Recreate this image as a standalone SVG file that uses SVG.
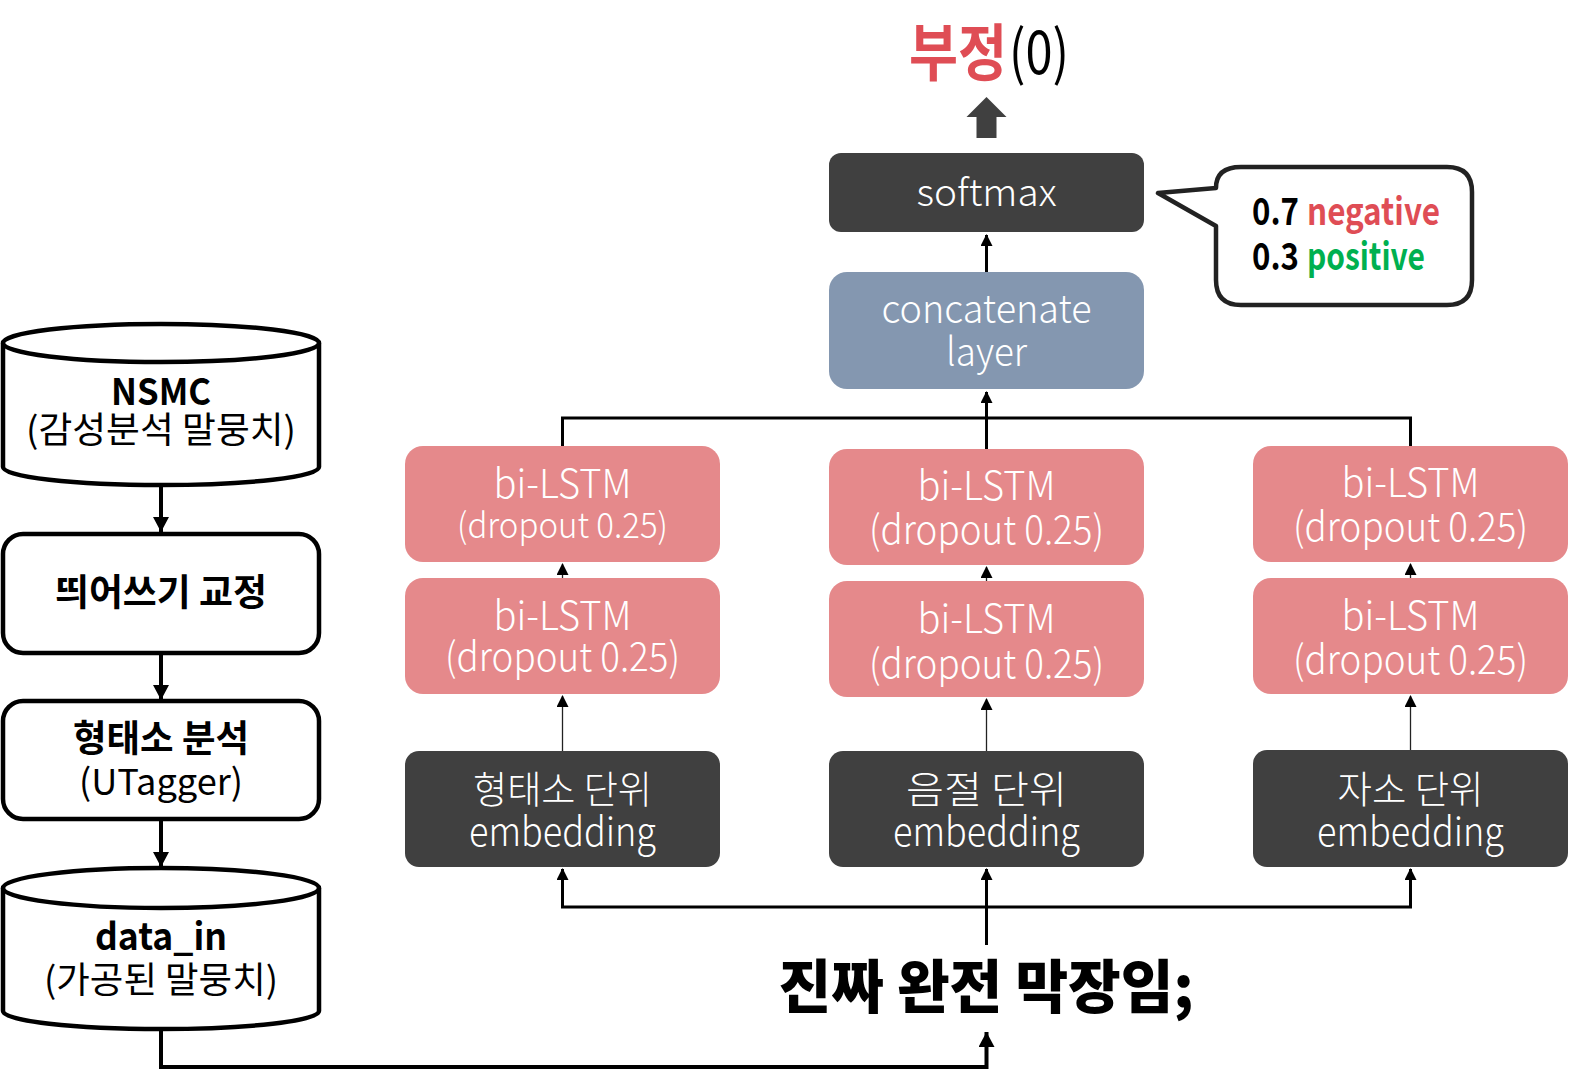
<svg xmlns="http://www.w3.org/2000/svg" width="1573" height="1073" viewBox="0 0 1573 1073">
<defs>
<style>
text{font-family:"Noto Sans CJK KR","Noto Sans",sans-serif;}
.w{fill:#ffffff;font-weight:300;}
.k{fill:#000000;}
.b{font-weight:700;}
.dark{fill:#404040;}
.lstm{fill:#E5898B;}
.cc{fill:#8497B0;}
.outl{fill:#ffffff;stroke:#000000;stroke-width:4.5;}
.c{fill:none;stroke:#000000;stroke-width:3;}
.thin{fill:none;stroke:#222222;stroke-width:1.3;}
.fl{fill:none;stroke:#000000;stroke-width:4;}
</style>
<marker id="ah" markerUnits="userSpaceOnUse" markerWidth="12" markerHeight="12" refX="11" refY="6" orient="auto">
<path d="M0,0 L12,6 L0,12 z" fill="#000000"/>
</marker>
<marker id="ahL" markerUnits="userSpaceOnUse" markerWidth="15" markerHeight="16" refX="15" refY="8" orient="auto">
<path d="M0,0 L15,8 L0,16 z" fill="#000000"/>
</marker>
</defs>
<rect width="1573" height="1073" fill="#ffffff"/>

<g id="connectors">
<path class="c" d="M986.5,272 V235" stroke-width="2.5" marker-end="url(#ah)"/>
<path class="c" d="M562.5,446 V418 H1410.5 V446"/>
<path class="c" d="M986.5,449 V392" marker-end="url(#ah)"/>
<path class="thin" d="M562.5,578 V564" marker-end="url(#ah)"/>
<path class="thin" d="M986.5,581 V567" marker-end="url(#ah)"/>
<path class="thin" d="M1410.5,578 V564" marker-end="url(#ah)"/>
<path class="thin" d="M562.5,751 V696" marker-end="url(#ah)"/>
<path class="thin" d="M986.5,751 V699" marker-end="url(#ah)"/>
<path class="thin" d="M1410.5,750 V696" marker-end="url(#ah)"/>
<path class="c" d="M986.5,945 V869" marker-end="url(#ah)"/>
<path class="c" d="M986.5,907 H562.5 V869" marker-end="url(#ah)"/>
<path class="c" d="M986.5,907 H1410.5 V869" marker-end="url(#ah)"/>
<path class="fl" d="M161,487 V532" marker-end="url(#ahL)"/>
<path class="fl" d="M161,655 V700" marker-end="url(#ahL)"/>
<path class="fl" d="M161,821 V867" marker-end="url(#ahL)"/>
<path class="fl" d="M161,1029 V1067 H986.5 V1032" marker-end="url(#ahL)"/>
</g>

<g id="result">
<text x="909" y="76" font-size="62" class="b" fill="#DF4D55" textLength="98" lengthAdjust="spacingAndGlyphs">부정</text>
<text x="1009" y="74" font-size="60" fill="#000000" textLength="60" lengthAdjust="spacingAndGlyphs">(0)</text>
<polygon class="dark" points="986.5,97 1006.5,117 996.5,117 996.5,138 976.5,138 976.5,117 966.5,117"/>
</g>

<g id="softmax">
<rect class="dark" x="829" y="153" width="315" height="79" rx="12"/>
<text class="w" x="986.5" y="206" font-size="38" text-anchor="middle" textLength="140" lengthAdjust="spacingAndGlyphs">softmax</text>
</g>

<g id="bubble">
<path d="M1158,193 L1216,188 Q1216,167 1241,167 L1447,167 Q1472,167 1472,192 L1472,280 Q1472,305 1447,305 L1241,305 Q1216,305 1216,280 L1216,226 Z" fill="#ffffff" stroke="#222222" stroke-width="4.5" stroke-linejoin="round"/>
<text x="1252" y="225" font-size="38" class="b k" textLength="47" lengthAdjust="spacingAndGlyphs">0.7</text>
<text x="1307" y="225" font-size="38" class="b" fill="#DF4D55" textLength="133" lengthAdjust="spacingAndGlyphs">negative</text>
<text x="1252" y="270" font-size="38" class="b k" textLength="47" lengthAdjust="spacingAndGlyphs">0.3</text>
<text x="1307" y="270" font-size="38" class="b" fill="#00B050" textLength="118" lengthAdjust="spacingAndGlyphs">positive</text>
</g>

<g id="concatenate">
<rect class="cc" x="829" y="272" width="315" height="117" rx="18"/>
<text class="w" x="986.5" y="323" font-size="39" text-anchor="middle" textLength="210" lengthAdjust="spacingAndGlyphs">concatenate</text>
<text class="w" x="986.5" y="366" font-size="39" text-anchor="middle" textLength="81" lengthAdjust="spacingAndGlyphs">layer</text>
</g>

<g id="lstm-left-top">
<rect class="lstm" x="405" y="446" width="315" height="116" rx="18"/>
<text class="w" x="562.5" y="498" font-size="40" text-anchor="middle" textLength="138" lengthAdjust="spacingAndGlyphs">bi-LSTM</text>
<text class="w" x="562.5" y="538" font-size="35" text-anchor="middle" textLength="211" lengthAdjust="spacingAndGlyphs">(dropout 0.25)</text>
</g>
<g id="lstm-left-bottom">
<rect class="lstm" x="405" y="578" width="315" height="116" rx="18"/>
<text class="w" x="562.5" y="630" font-size="40" text-anchor="middle" textLength="138" lengthAdjust="spacingAndGlyphs">bi-LSTM</text>
<text class="w" x="562.5" y="671" font-size="40" text-anchor="middle" textLength="235" lengthAdjust="spacingAndGlyphs">(dropout 0.25)</text>
</g>
<g id="lstm-center-top">
<rect class="lstm" x="829" y="449" width="315" height="116" rx="18"/>
<text class="w" x="986.5" y="500" font-size="40" text-anchor="middle" textLength="138" lengthAdjust="spacingAndGlyphs">bi-LSTM</text>
<text class="w" x="986.5" y="544" font-size="40" text-anchor="middle" textLength="235" lengthAdjust="spacingAndGlyphs">(dropout 0.25)</text>
</g>
<g id="lstm-center-bottom">
<rect class="lstm" x="829" y="581" width="315" height="116" rx="18"/>
<text class="w" x="986.5" y="633" font-size="40" text-anchor="middle" textLength="138" lengthAdjust="spacingAndGlyphs">bi-LSTM</text>
<text class="w" x="986.5" y="678" font-size="40" text-anchor="middle" textLength="235" lengthAdjust="spacingAndGlyphs">(dropout 0.25)</text>
</g>
<g id="lstm-right-top">
<rect class="lstm" x="1253" y="446" width="315" height="116" rx="18"/>
<text class="w" x="1410.5" y="497" font-size="40" text-anchor="middle" textLength="138" lengthAdjust="spacingAndGlyphs">bi-LSTM</text>
<text class="w" x="1410.5" y="541" font-size="40" text-anchor="middle" textLength="235" lengthAdjust="spacingAndGlyphs">(dropout 0.25)</text>
</g>
<g id="lstm-right-bottom">
<rect class="lstm" x="1253" y="578" width="315" height="116" rx="18"/>
<text class="w" x="1410.5" y="630" font-size="40" text-anchor="middle" textLength="138" lengthAdjust="spacingAndGlyphs">bi-LSTM</text>
<text class="w" x="1410.5" y="674" font-size="40" text-anchor="middle" textLength="235" lengthAdjust="spacingAndGlyphs">(dropout 0.25)</text>
</g>

<g id="emb-morph">
<rect class="dark" x="405" y="751" width="315" height="116" rx="14"/>
<text class="w" x="562.5" y="803" font-size="38" text-anchor="middle" textLength="179" lengthAdjust="spacingAndGlyphs">형태소 단위</text>
<text class="w" x="562.5" y="846" font-size="40" text-anchor="middle" textLength="187" lengthAdjust="spacingAndGlyphs">embedding</text>
</g>
<g id="emb-syllable">
<rect class="dark" x="829" y="751" width="315" height="116" rx="14"/>
<text class="w" x="986.5" y="803" font-size="38" text-anchor="middle" textLength="161" lengthAdjust="spacingAndGlyphs">음절 단위</text>
<text class="w" x="986.5" y="846" font-size="40" text-anchor="middle" textLength="187" lengthAdjust="spacingAndGlyphs">embedding</text>
</g>
<g id="emb-jaso">
<rect class="dark" x="1253" y="750" width="315" height="117" rx="14"/>
<text class="w" x="1410.5" y="803" font-size="38" text-anchor="middle" textLength="146" lengthAdjust="spacingAndGlyphs">자소 단위</text>
<text class="w" x="1410.5" y="846" font-size="40" text-anchor="middle" textLength="187" lengthAdjust="spacingAndGlyphs">embedding</text>
</g>

<g id="input-sentence">
<text x="986" y="1008" font-size="58" class="b k" text-anchor="middle" textLength="415" lengthAdjust="spacingAndGlyphs" style="font-weight:900">진짜 완전 막장임;</text>
</g>

<g id="nsmc">
<path class="outl" d="M3,343 V467 A158,18 0 0 0 319,467 V343"/>
<ellipse class="outl" cx="161" cy="343" rx="158" ry="19"/>
<text x="161" y="405" font-size="37" class="b k" text-anchor="middle" textLength="100" lengthAdjust="spacingAndGlyphs">NSMC</text>
<text x="161" y="443" font-size="36" class="k" text-anchor="middle" textLength="270" lengthAdjust="spacingAndGlyphs">(감성분석 말뭉치)</text>
</g>
<g id="spacing">
<rect class="outl" x="3" y="534" width="316" height="119" rx="20"/>
<text x="161" y="606" font-size="37" class="b k" text-anchor="middle" textLength="212" lengthAdjust="spacingAndGlyphs">띄어쓰기 교정</text>
</g>
<g id="morph">
<rect class="outl" x="3" y="701" width="316" height="118" rx="20"/>
<text x="161" y="752" font-size="37" class="b k" text-anchor="middle" textLength="176" lengthAdjust="spacingAndGlyphs">형태소 분석</text>
<text x="161" y="795" font-size="36" class="k" text-anchor="middle" textLength="164" lengthAdjust="spacingAndGlyphs">(UTagger)</text>
</g>
<g id="data-in">
<path class="outl" d="M3,888 V1011 A158,18 0 0 0 319,1011 V888"/>
<ellipse class="outl" cx="161" cy="888" rx="158" ry="20"/>
<text x="161" y="950" font-size="38" class="b k" text-anchor="middle" textLength="132" lengthAdjust="spacingAndGlyphs">data_in</text>
<text x="161" y="993" font-size="36" class="k" text-anchor="middle" textLength="234" lengthAdjust="spacingAndGlyphs">(가공된 말뭉치)</text>
</g>
</svg>
